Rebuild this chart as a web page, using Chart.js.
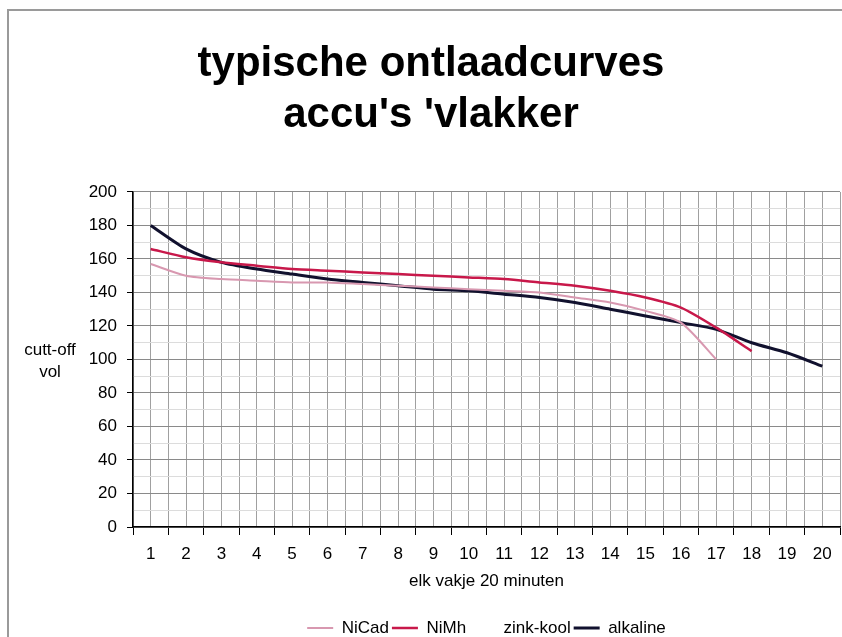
<!DOCTYPE html>
<html>
<head>
<meta charset="utf-8">
<script src="https://cdn.jsdelivr.net/npm/chart.js@4.4.1/dist/chart.umd.min.js"></script>
<style>
html,body{margin:0;padding:0;background:#fff;}
#wrap{width:842px;height:637px;position:relative;}
</style>
</head>
<body>
<div id="wrap"><canvas id="c" width="842" height="637"></canvas></div>
<script>
const categories = ['1','2','3','4','5','6','7','8','9','10','11','12','13','14','15','16','17','18','19','20'];
const nicad    = [157,150,148,147,146,146,145,144,143,142,141,140,137,134,129,122,100];
const nimh     = [166,161,158,156,154,153,152,151,150,149,148,146,144,141,137,131,119,105];
const zinkKool = [];
const alkaline = [180,166,158,154,151,148,146,144,142,141,139,137,134,130,126,122,118,110,104,96];
const yTickLabels = [0,20,40,60,80,100,120,140,160,180,200];
const titleLines = ['typische ontlaadcurves', "accu's 'vlakker"];
const xTitle = 'elk vakje 20 minuten';
const yTitleLines = ['cutt-off', 'vol'];

function toPoints(arr){ return arr.map((v,i)=>({x: Number(categories[i]), y: v})); }

const FONT = "'Liberation Sans', Arial, sans-serif";

const extras = {
  id: 'extras',
  afterLayout(chart){
    const t = chart.titleBlock;
    t.left += 11; t.right += 11;
    const lg = chart.legend;
    // center legend under the plot area, near the bottom edge
    const plotCenter = (chart.chartArea.left + chart.chartArea.right) / 2;
    const boxCenter = (lg.left + lg.right) / 2;
    const dx = plotCenter - boxCenter;
    lg.left += dx; lg.right += dx;
    const dy = 628 - (lg.top + lg.options.labels.padding + 8.5);
    lg.top += dy; lg.bottom += dy;
  },
  beforeDraw(chart){
    const ctx = chart.ctx;
    ctx.save();
    ctx.fillStyle = '#fff';
    ctx.fillRect(0,0,chart.width,chart.height);
    ctx.strokeStyle = '#9a9a9a';
    ctx.lineWidth = 2;
    ctx.beginPath();
    ctx.moveTo(8, 637); ctx.lineTo(8, 10); ctx.lineTo(842, 10);
    ctx.stroke();
    ctx.restore();
  },
  afterDraw(chart){
    const ctx = chart.ctx;
    ctx.save();
    ctx.fillStyle = '#000';
    ctx.font = '17px ' + FONT;
    ctx.textAlign = 'center';
    ctx.textBaseline = 'middle';
    ctx.fillText(yTitleLines[0], 50, 350);
    ctx.fillText(yTitleLines[1], 50, 372);
    ctx.restore();
  }
};

new Chart(document.getElementById('c'), {
  type: 'line',
  data: {
    datasets: [
      {label:'NiCad', data: toPoints(nicad), borderColor:'#d898b0', backgroundColor:'#d898b0', borderWidth:2},
      {label:'NiMh', data: toPoints(nimh), borderColor:'#c8184a', backgroundColor:'#c8184a', borderWidth:2.5},
      {label:'zink-kool', data: toPoints(zinkKool), borderColor:'rgba(0,0,0,0)', backgroundColor:'rgba(0,0,0,0)', borderWidth:2},
      {label:'alkaline', data: toPoints(alkaline), borderColor:'#11112e', backgroundColor:'#11112e', borderWidth:3}
    ]
  },
  options: {
    responsive: false,
    animation: false,
    devicePixelRatio: 1,
    layout: { padding: { left: 0, right: 2, top: 0, bottom: 0 } },
    elements: { point: { radius: 0 }, line: { tension: 0.25 } },
    plugins: {
      title: {
        display: true,
        text: titleLines,
        color: '#000',
        font: { family: FONT, size: 42, weight: 'bold', lineHeight: 1.214 },
        padding: { top: 38.5, bottom: 51.5 }
      },
      legend: {
        display: true,
        position: 'bottom',
        labels: {
          color: '#000',
          font: { family: FONT, size: 17 },
          usePointStyle: true,
          pointStyle: 'line',
          pointStyleWidth: 26,
          boxHeight: 17,
          padding: 3
        }
      },
      tooltip: { enabled: false }
    },
    scales: {
      x: {
        type: 'linear',
        min: 0.5,
        max: 20.5,
        afterBuildTicks(scale){
          const t = [];
          for (let i = 0; i <= 40; i++) t.push({value: 0.5 + i*0.5});
          scale.ticks = t;
        },
        afterFit(scale){ scale.paddingLeft = 0; scale.paddingRight = 0; },
        ticks: {
          autoSkip: false,
          maxRotation: 0,
          color: '#000',
          font: { family: FONT, size: 17, lineHeight: 1 },
          padding: 10.5,
          callback: (v) => Number.isInteger(v) ? categories[v-1] : ''
        },
        grid: {
          color: '#a0a0a0',
          lineWidth: 1,
          tickLength: 8,
          tickColor: (ctx) => (ctx.tick && Number.isInteger(ctx.tick.value)) ? 'rgba(0,0,0,0)' : '#000'
        },
        border: { display: true, color: '#000', width: 1.5 },
        title: {
          display: true,
          text: xTitle,
          color: '#000',
          font: { family: FONT, size: 17, lineHeight: 1 },
          padding: { top: 0, bottom: 17 }
        }
      },
      y: {
        min: 0,
        max: 200,
        afterBuildTicks(scale){
          const t = [];
          for (let v = 0; v <= 200; v += 10) t.push({value: v});
          scale.ticks = t;
        },
        afterFit(scale){ scale.width = 133; },
        ticks: {
          autoSkip: false,
          color: '#000',
          font: { family: FONT, size: 17 },
          padding: 10,
          callback: (v) => yTickLabels.includes(v) ? String(v) : ''
        },
        grid: {
          color: (ctx) => (ctx.tick && ctx.tick.value % 20 === 0) ? '#8a8a8a' : '#dcdcdc',
          lineWidth: 1,
          tickLength: 6,
          tickColor: (ctx) => (ctx.tick && ctx.tick.value % 20 === 0) ? '#000' : 'rgba(0,0,0,0)'
        },
        border: { display: true, color: '#000', width: 1.5 }
      }
    }
  },
  plugins: [extras]
});
</script>
</body>
</html>
